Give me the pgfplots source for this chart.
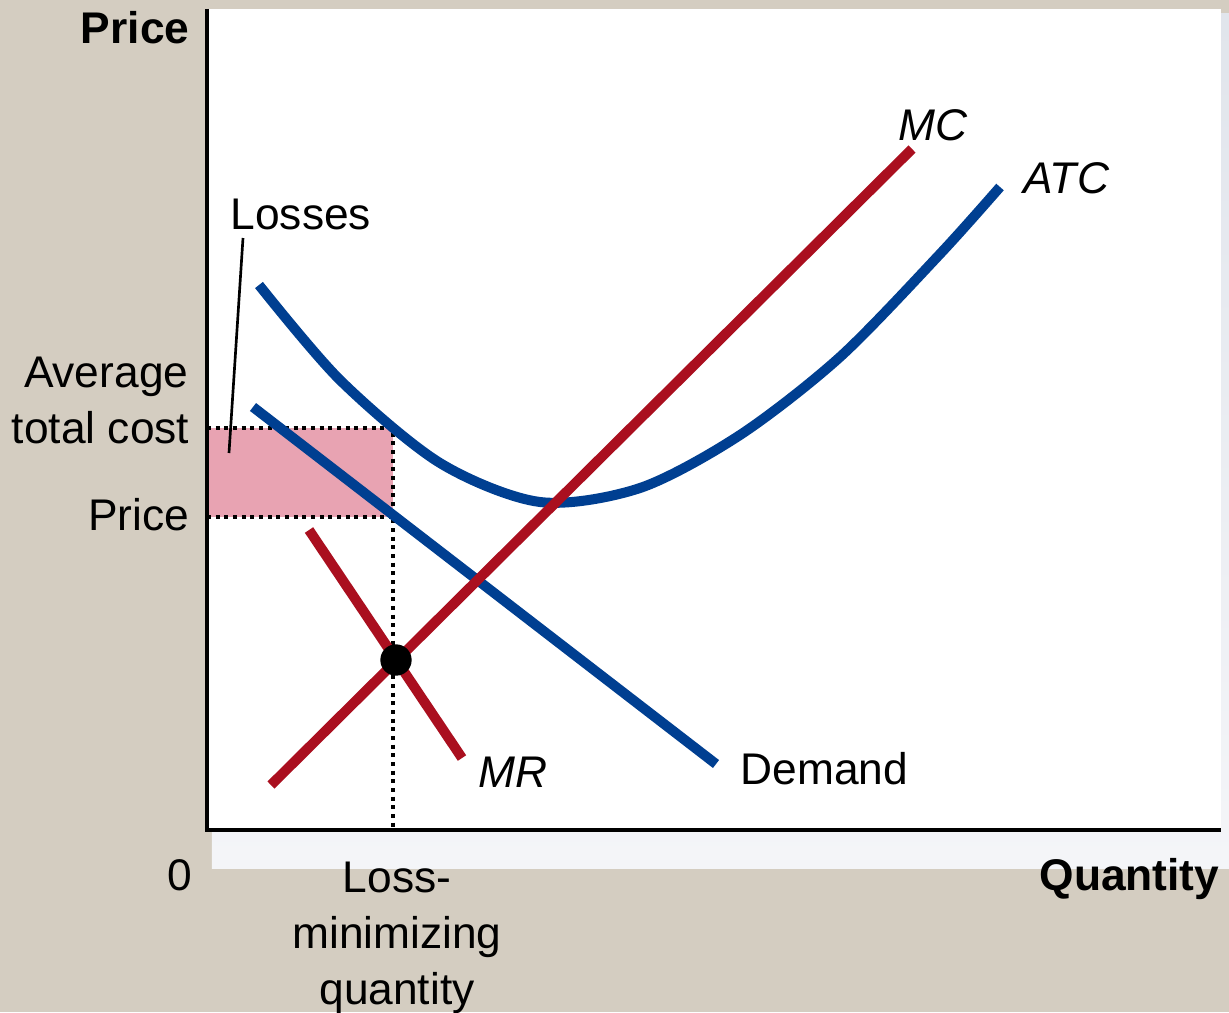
\documentclass[border=0pt]{standalone}
\usepackage{pgfplots}
\pgfplotsset{compat=1.18}
\usepackage{fontspec}
\setmainfont{Liberation Sans}
\definecolor{bg}{HTML}{D4CDC1}
\definecolor{shtop}{HTML}{E1E5EC}
\definecolor{shbot}{HTML}{F4F5F8}
\definecolor{cblue}{HTML}{003F91}
\definecolor{cred}{HTML}{AA0F1F}
\definecolor{loss}{HTML}{E8A3B2}
\begin{document}
\fontsize{13.3}{16.8}\selectfont
\begin{tikzpicture}
\begin{axis}[
  scale only axis, width=304.2pt, height=246.3pt,
  xmin=0, xmax=1014, ymin=0, ymax=821,
  hide axis, clip=false
]
% page background, shadow and plot panel
\coordinate (bl) at (axis cs:-207,-182);
\coordinate (tr) at (axis cs:1022,830);
\fill[bg] (axis cs:-207,-182) rectangle (axis cs:1022,830);
\shade[top color=shtop, bottom color=shbot] (axis cs:5,-38) rectangle (axis cs:1022,816);
\fill[white] (axis cs:2,0) rectangle (axis cs:1014,821);

% losses rectangle
\addplot[fill=loss, draw=none] coordinates {(2,313) (186,313) (186,402) (2,402)} -- cycle;
\addplot[black, line width=1.2pt, dash pattern=on 1.2pt off 1.4pt] coordinates {(0,402) (186,402) (186,0)};
\addplot[black, line width=1.2pt, dash pattern=on 1.2pt off 1.4pt] coordinates {(0,313) (186,313)};

% axes
\draw[black, line width=1.1pt] (axis cs:0,821) -- (axis cs:0,0) -- (axis cs:1014,0);

% losses pointer
\addplot[black, line width=0.8pt] coordinates {(36,592) (22,377)};

% curves
\addplot[cblue, line width=3pt, smooth] coordinates {
 (52,545) (133,450) (233,367) (333,328) (433,342) (533,395) (633,473) (733,576) (793,643)
};
\addplot[cblue, line width=3pt] coordinates {(46,423) (509,66)};
\addplot[cred, line width=3pt] coordinates {(64,45) (705,681)};
\addplot[cred, line width=3pt] coordinates {(102,300) (255,72)};
\addplot[only marks, mark=*, mark size=4.5pt, black] coordinates {(189,170)};

% labels
\tikzset{every node/.style={inner sep=0pt}}
\node[anchor=base east, font=\bfseries] at (axis cs:-17,786) {Price};
\node[anchor=base west] at (axis cs:23,601) {Losses};
\node[anchor=base east] at (axis cs:-18,443) {Average};
\node[anchor=base east] at (axis cs:-17,387) {total cost};
\node[anchor=base east] at (axis cs:-17,300) {Price};
\node[anchor=base] at (axis cs:-27,-60) {0};
\node[anchor=base] at (axis cs:190,-62) {Loss-};
\node[anchor=base] at (axis cs:190,-118) {minimizing};
\node[anchor=base] at (axis cs:190,-174) {quantity};
\node[anchor=base east, font=\bfseries] at (axis cs:1013,-60) {Quantity};
\node[anchor=base west, font=\itshape] at (axis cs:691,690) {MC};
\node[anchor=base west, font=\itshape] at (axis cs:816,637) {ATC};
\node[anchor=base west, font=\itshape] at (axis cs:271,43) {MR};
\node[anchor=base west] at (axis cs:533,46) {Demand};
\end{axis}
\pgfresetboundingbox
\useasboundingbox (bl) rectangle (tr);
\end{tikzpicture}
\end{document}
